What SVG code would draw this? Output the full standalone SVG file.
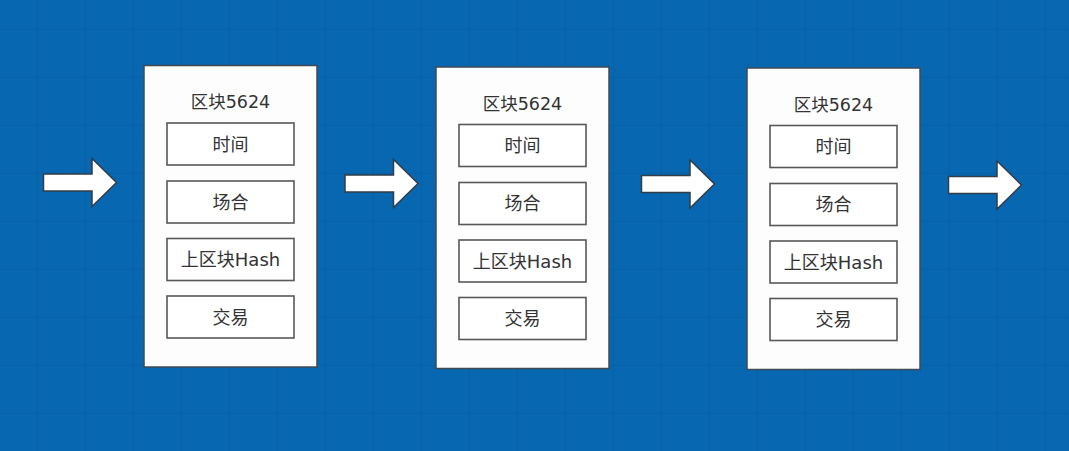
<svg xmlns="http://www.w3.org/2000/svg" width="1069" height="451" viewBox="0 0 1069 451">
<defs>
<pattern id="minor" x="1" y="5" width="12" height="12" patternUnits="userSpaceOnUse">
<path d="M12 0V12M0 12H12" fill="none" stroke="#0a62a8" stroke-width="0.6" opacity="0.6"/>
</pattern>
<pattern id="major" x="37" y="29" width="48" height="48" patternUnits="userSpaceOnUse">
<path d="M0 0V48M0 0H48" fill="none" stroke="#085c9f" stroke-width="1"/>
</pattern>
<path id="arrow" d="M0 0H48.5V-15.5L73 8.5L48.5 32.5V17H0Z"/>
</defs>
<style>
.outer{fill:#fdfdfd;stroke:#3f4a55;stroke-width:1.5}
.field{fill:#ffffff;stroke:#585858;stroke-width:1.6}
.title{font-family:"DejaVu Sans","Noto Sans CJK SC",sans-serif;font-size:17.5px;fill:#333;text-anchor:middle}
.lbl{font-family:"DejaVu Sans","Noto Sans CJK SC",sans-serif;font-size:18px;fill:#333;text-anchor:middle}
.arr{fill:#ffffff;stroke:#333d47;stroke-width:1.5;stroke-linejoin:miter}
</style>
<rect width="1069" height="451" fill="#0767b1"/>
<rect width="1069" height="451" fill="url(#minor)"/>
<rect width="1069" height="451" fill="url(#major)"/>

<g id="connectors">
<use href="#arrow" class="arr" transform="translate(43.5,174)"/>
<use href="#arrow" class="arr" transform="translate(345,175)"/>
<use href="#arrow" class="arr" transform="translate(641.5,175.5)"/>
<use href="#arrow" class="arr" transform="translate(948.5,176.5)"/>
</g>

<g id="block1" transform="translate(144,65.5)">
<rect class="outer" x="0" y="0" width="173" height="301.5"/>
<text class="title" x="86.5" y="42.5">区块5624</text>
<rect class="field" x="23" y="57.5" width="127" height="42"/>
<text class="lbl" x="86.5" y="85">时间</text>
<rect class="field" x="23" y="115.5" width="127" height="42"/>
<text class="lbl" x="86.5" y="143">场合</text>
<rect class="field" x="23" y="173" width="127" height="42"/>
<text class="lbl" x="86.5" y="200.5">上区块Hash</text>
<rect class="field" x="23" y="230.5" width="127" height="42"/>
<text class="lbl" x="86.5" y="258">交易</text>
</g>

<g id="block2" transform="translate(436,67)">
<rect class="outer" x="0" y="0" width="173" height="301.5"/>
<text class="title" x="86.5" y="42.5">区块5624</text>
<rect class="field" x="23" y="57.5" width="127" height="42"/>
<text class="lbl" x="86.5" y="85">时间</text>
<rect class="field" x="23" y="115.5" width="127" height="42"/>
<text class="lbl" x="86.5" y="143">场合</text>
<rect class="field" x="23" y="173" width="127" height="42"/>
<text class="lbl" x="86.5" y="200.5">上区块Hash</text>
<rect class="field" x="23" y="230.5" width="127" height="42"/>
<text class="lbl" x="86.5" y="258">交易</text>
</g>

<g id="block3" transform="translate(747,68)">
<rect class="outer" x="0" y="0" width="173" height="301.5"/>
<text class="title" x="86.5" y="42.5">区块5624</text>
<rect class="field" x="23" y="57.5" width="127" height="42"/>
<text class="lbl" x="86.5" y="85">时间</text>
<rect class="field" x="23" y="115.5" width="127" height="42"/>
<text class="lbl" x="86.5" y="143">场合</text>
<rect class="field" x="23" y="173" width="127" height="42"/>
<text class="lbl" x="86.5" y="200.5">上区块Hash</text>
<rect class="field" x="23" y="230.5" width="127" height="42"/>
<text class="lbl" x="86.5" y="258">交易</text>
</g>
</svg>
